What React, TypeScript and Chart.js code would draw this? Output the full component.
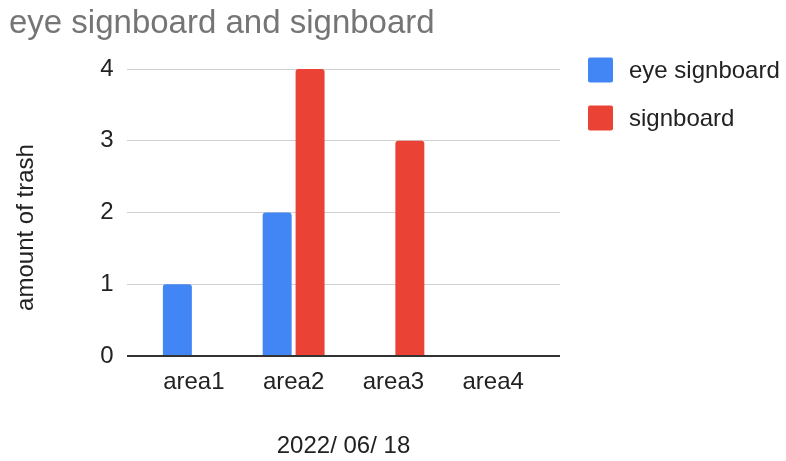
import React, { useEffect, useRef } from 'react';
import { Chart, registerables } from 'chart.js';

Chart.register(...registerables);

// Data
const categories = ['area1', 'area2', 'area3', 'area4'];
const eyeSignboard = [1, 2, 0, 0];
const signboard = [0, 4, 3, 0];
const seriesNames = ['eye signboard', 'signboard'];
const seriesColors = ['#4285F4', '#EA4335'];
const yMin = 0;
const yMax = 4;
const yStep = 1;

// Text
const chartTitle = 'eye signboard and signboard';
const xTitle = '2022/ 06/ 18';
const yTitle = 'amount of trash';

const FONT = '"Liberation Sans", Arial, Helvetica, sans-serif';
const TEXT = '#222222';

// Rotated y-axis title and a right-hand legend with rounded swatches
const extrasPlugin = {
  id: 'extras',
  afterDraw(chart: any) {
    const { ctx, chartArea } = chart;
    ctx.save();
    ctx.font = `24px ${FONT}`;
    ctx.fillStyle = TEXT;
    ctx.translate(33, 227.5);
    ctx.rotate(-Math.PI / 2);
    ctx.textAlign = 'center';
    ctx.textBaseline = 'alphabetic';
    ctx.fillText(yTitle, 0, 0);
    ctx.restore();

    ctx.save();
    ctx.font = `24px ${FONT}`;
    ctx.textAlign = 'left';
    ctx.textBaseline = 'alphabetic';
    chart.data.datasets.forEach((ds: any, i: number) => {
      const baseline = chartArea.top + 9 + i * 48;
      const bx = chartArea.right + 28;
      ctx.fillStyle = ds.backgroundColor;
      ctx.beginPath();
      ctx.roundRect(bx, baseline - 20.5, 25, 25, 2);
      ctx.fill();
      ctx.fillStyle = TEXT;
      ctx.fillText(ds.label, bx + 41, baseline);
    });
    ctx.restore();
  },
};

export default function App() {
  const canvasRef = useRef<HTMLCanvasElement | null>(null);

  useEffect(() => {
    if (!canvasRef.current) return;
    const chart = new Chart(canvasRef.current, {
      type: 'bar',
      data: {
        labels: categories,
        datasets: [
          {
            label: seriesNames[0],
            data: eyeSignboard,
            backgroundColor: seriesColors[0],
            borderRadius: 3,
            categoryPercentage: 0.66,
            barPercentage: 0.88,
          },
          {
            label: seriesNames[1],
            data: signboard,
            backgroundColor: seriesColors[1],
            borderRadius: 3,
            categoryPercentage: 0.66,
            barPercentage: 0.88,
          },
        ],
      },
      options: {
        animation: false,
        responsive: true,
        maintainAspectRatio: false,
        devicePixelRatio: 1,
        layout: { padding: { left: 9, right: 226, top: 0, bottom: 0 } },
        plugins: {
          legend: { display: false },
          tooltip: { enabled: false },
          title: {
            display: true,
            text: chartTitle,
            align: 'start',
            color: '#757575',
            font: { family: FONT, size: 33, weight: 'normal' },
            padding: { top: 4, bottom: 25.5 },
          },
        },
        scales: {
          x: {
            grid: { display: false, drawTicks: false },
            border: { display: false },
            ticks: { color: TEXT, font: { family: FONT, size: 24 }, padding: 12 },
            title: {
              display: true,
              text: xTitle,
              color: TEXT,
              font: { family: FONT, size: 24 },
              padding: { top: 0, bottom: 0 },
            },
            afterBuildTicks: (scale: any) => {
              // widen the category axis so the groups sit inside a wider plot
              scale._startValue = -0.67;
              scale._valueRange = categories.length + 0.34;
            },
            afterFit: (scale: any) => {
              scale.height = 105;
            },
          },
          y: {
            min: yMin,
            max: yMax,
            ticks: {
              stepSize: yStep,
              color: TEXT,
              font: { family: FONT, size: 24 },
              padding: 13.5,
            },
            grid: {
              drawTicks: false,
              color: (c: any) => (c.tick && c.tick.value === 0 ? '#333333' : '#d0d0d0'),
              lineWidth: (c: any) => (c.tick && c.tick.value === 0 ? 2 : 1),
            },
            border: { display: false },
            afterFit: (scale: any) => {
              scale.width = 118;
            },
          },
        },
      },
      plugins: [extrasPlugin],
    });
    return () => chart.destroy();
  }, []);

  return (
    <div style={{ position: 'absolute', left: 0, top: 0, width: 786, height: 461, background: '#ffffff' }}>
      <canvas ref={canvasRef} style={{ display: 'block' }} />
    </div>
  );
}
